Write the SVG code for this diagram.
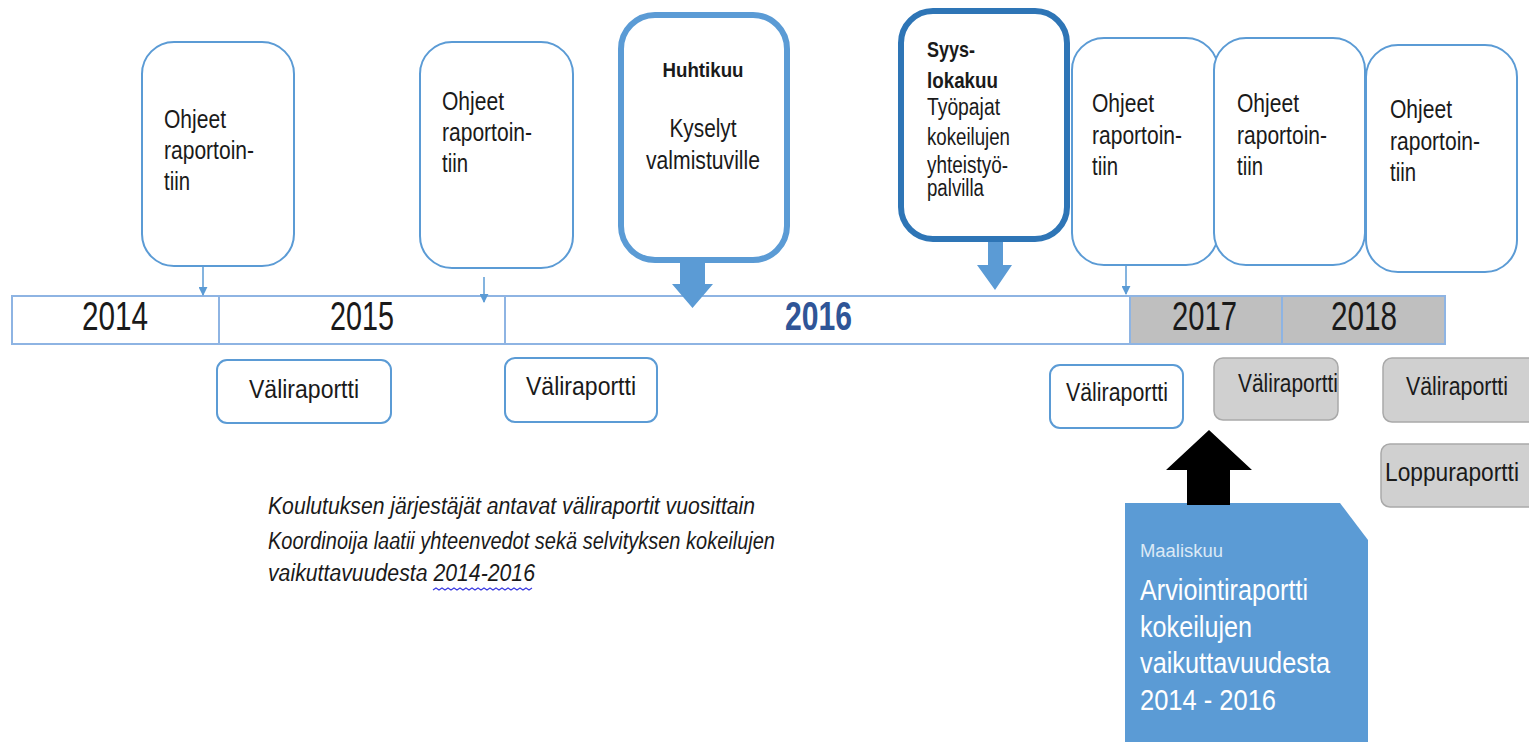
<svg xmlns="http://www.w3.org/2000/svg" width="1529" height="742" viewBox="0 0 1529 742">
<style>
text{font-family:"Liberation Sans",Arial,sans-serif;fill:#1a1a1a}
.ob{fill:#fff;stroke:#5b9bd5;stroke-width:2}
.hb{fill:#fff;stroke:#5b9bd5;stroke-width:6}
.sb{fill:#fff;stroke:#2e75b6;stroke-width:6}
.t20{font-size:26px}
.yr{font-size:40px}
.vb{fill:#fff;stroke:#5b9bd5;stroke-width:2}
.gb{fill:#d0d0d0;stroke:#a9a9a9;stroke-width:1.5}
.vt{font-size:26px}
.ba{fill:#5b9bd5}
.wt{fill:#fff}
.it{font-size:23px;font-style:italic}
.conn{stroke:#5b9bd5;stroke-width:1.5;fill:none}
</style>
<defs>
<marker id="ah" viewBox="0 0 10 10" refX="9" refY="5" markerWidth="9" markerHeight="9" orient="auto" markerUnits="userSpaceOnUse">
<path d="M0,0 L10,5 L0,10 Z" fill="#5b9bd5"/>
</marker>
</defs>

<g id="timeline">
<rect x="12" y="296" width="1433" height="48" fill="#fff" stroke="#8eb4e3" stroke-width="2"/>
<rect x="1130" y="296" width="315" height="48" fill="#bfbfbf" stroke="#8eb4e3" stroke-width="2"/>
<line x1="219" y1="296" x2="219" y2="344" stroke="#8eb4e3" stroke-width="2"/>
<line x1="505" y1="296" x2="505" y2="344" stroke="#8eb4e3" stroke-width="2"/>
<line x1="1282" y1="296" x2="1282" y2="344" stroke="#8eb4e3" stroke-width="2"/>
<text class="yr" x="82" y="330" textLength="66" lengthAdjust="spacingAndGlyphs">2014</text>
<text class="yr" x="330" y="330" textLength="64" lengthAdjust="spacingAndGlyphs">2015</text>
<text class="yr" x="785" y="330" textLength="67" lengthAdjust="spacingAndGlyphs" style="fill:#2f5597;font-weight:bold">2016</text>
<text class="yr" x="1172" y="330" textLength="65" lengthAdjust="spacingAndGlyphs">2017</text>
<text class="yr" x="1331" y="330" textLength="66" lengthAdjust="spacingAndGlyphs">2018</text>
</g>

<g id="ohjeet1">
<rect class="ob" x="142" y="42" width="152" height="224" rx="32"/>
<text class="t20" x="164" y="128" textLength="62" lengthAdjust="spacingAndGlyphs">Ohjeet</text>
<text class="t20" x="164" y="159" textLength="90" lengthAdjust="spacingAndGlyphs">raportoin-</text>
<text class="t20" x="164" y="190" textLength="26" lengthAdjust="spacingAndGlyphs">tiin</text>
</g>
<g id="ohjeet2">
<rect class="ob" x="420" y="42" width="153" height="226" rx="32"/>
<text class="t20" x="442" y="110" textLength="62" lengthAdjust="spacingAndGlyphs">Ohjeet</text>
<text class="t20" x="442" y="141" textLength="90" lengthAdjust="spacingAndGlyphs">raportoin-</text>
<text class="t20" x="442" y="172" textLength="26" lengthAdjust="spacingAndGlyphs">tiin</text>
</g>
<g id="huhtikuu">
<rect class="hb" x="621" y="15" width="166" height="245" rx="34"/>
<text x="703" y="77" text-anchor="middle" font-size="20" font-weight="bold" textLength="81" lengthAdjust="spacingAndGlyphs">Huhtikuu</text>
<text x="703" y="137" text-anchor="middle" font-size="26" textLength="67" lengthAdjust="spacingAndGlyphs">Kyselyt</text>
<text x="703" y="169" text-anchor="middle" font-size="26" textLength="114" lengthAdjust="spacingAndGlyphs">valmistuville</text>
</g>
<g id="syyslokakuu">
<rect class="sb" x="901" y="11" width="166" height="228" rx="32"/>
<text x="927" y="57" font-size="22" font-weight="bold" textLength="48" lengthAdjust="spacingAndGlyphs">Syys-</text>
<text x="927" y="88" font-size="22" font-weight="bold" textLength="71" lengthAdjust="spacingAndGlyphs">lokakuu</text>
<text x="927" y="115" font-size="23" textLength="73" lengthAdjust="spacingAndGlyphs">Työpajat</text>
<text x="927" y="145" font-size="23" textLength="83" lengthAdjust="spacingAndGlyphs">kokeilujen</text>
<text x="927" y="173" font-size="23" textLength="81" lengthAdjust="spacingAndGlyphs">yhteistyö-</text>
<text x="927" y="196" font-size="23" textLength="57" lengthAdjust="spacingAndGlyphs">palvilla</text>
</g>
<g id="ohjeet3">
<rect class="ob" x="1072" y="38" width="146" height="227" rx="32"/>
<text class="t20" x="1092" y="112" textLength="62" lengthAdjust="spacingAndGlyphs">Ohjeet</text>
<text class="t20" x="1092" y="144" textLength="90" lengthAdjust="spacingAndGlyphs">raportoin-</text>
<text class="t20" x="1092" y="175" textLength="26" lengthAdjust="spacingAndGlyphs">tiin</text>
</g>
<g id="ohjeet4">
<rect class="ob" x="1214" y="38" width="151" height="227" rx="32"/>
<text class="t20" x="1237" y="112" textLength="62" lengthAdjust="spacingAndGlyphs">Ohjeet</text>
<text class="t20" x="1237" y="144" textLength="90" lengthAdjust="spacingAndGlyphs">raportoin-</text>
<text class="t20" x="1237" y="175" textLength="26" lengthAdjust="spacingAndGlyphs">tiin</text>
</g>
<g id="ohjeet5">
<rect class="ob" x="1366" y="45" width="151" height="227" rx="32"/>
<text class="t20" x="1390" y="118" textLength="62" lengthAdjust="spacingAndGlyphs">Ohjeet</text>
<text class="t20" x="1390" y="150" textLength="90" lengthAdjust="spacingAndGlyphs">raportoin-</text>
<text class="t20" x="1390" y="181" textLength="26" lengthAdjust="spacingAndGlyphs">tiin</text>
</g>

<g id="vali1">
<rect class="vb" x="217" y="360" width="174" height="63" rx="10"/>
<text class="vt" x="304" y="398" text-anchor="middle" textLength="110" lengthAdjust="spacingAndGlyphs">Väliraportti</text>
</g>
<g id="vali2">
<rect class="vb" x="505" y="358" width="152" height="64" rx="10"/>
<text class="vt" x="581" y="395" text-anchor="middle" textLength="110" lengthAdjust="spacingAndGlyphs">Väliraportti</text>
</g>
<g id="vali3">
<rect class="vb" x="1050" y="365" width="133" height="63" rx="10"/>
<text class="vt" x="1117" y="401" text-anchor="middle" textLength="102" lengthAdjust="spacingAndGlyphs">Väliraportti</text>
</g>
<g id="vali4">
<rect class="gb" x="1214" y="358" width="124" height="62" rx="9"/>
<text class="vt" x="1288" y="392" text-anchor="middle" textLength="100" lengthAdjust="spacingAndGlyphs">Väliraportti</text>
</g>
<g id="vali5">
<rect class="gb" x="1383" y="358" width="155" height="64" rx="9"/>
<text class="vt" x="1457" y="395" text-anchor="middle" textLength="102" lengthAdjust="spacingAndGlyphs">Väliraportti</text>
</g>
<g id="loppu">
<rect class="gb" x="1381" y="444" width="157" height="63" rx="9"/>
<text class="vt" x="1452" y="481" text-anchor="middle" textLength="134" lengthAdjust="spacingAndGlyphs">Loppuraportti</text>
</g>

<g id="arviointi">
<path d="M1125,503 L1340,503 L1368,540 L1368,742 L1125,742 Z" fill="#5b9bd5"/>
<text class="wt" x="1140" y="557" font-size="18" textLength="83" lengthAdjust="spacingAndGlyphs" style="fill:#dce9f5">Maaliskuu</text>
<text class="wt" x="1140" y="600" font-size="30" textLength="168" lengthAdjust="spacingAndGlyphs">Arviointiraportti</text>
<text class="wt" x="1140" y="637" font-size="30" textLength="112" lengthAdjust="spacingAndGlyphs">kokeilujen</text>
<text class="wt" x="1140" y="673" font-size="30" textLength="190" lengthAdjust="spacingAndGlyphs">vaikuttavuudesta</text>
<text class="wt" x="1140" y="710" font-size="30" textLength="136" lengthAdjust="spacingAndGlyphs">2014 - 2016</text>
</g>

<g id="note">
<text class="it" x="268" y="514" textLength="487" lengthAdjust="spacingAndGlyphs">Koulutuksen järjestäjät antavat väliraportit vuosittain</text>
<text class="it" x="268" y="549" textLength="507" lengthAdjust="spacingAndGlyphs">Koordinoija laatii yhteenvedot sekä selvityksen kokeilujen</text>
<text class="it" x="268" y="581" textLength="267" lengthAdjust="spacingAndGlyphs">vaikuttavuudesta 2014-2016</text>
<path d="M433,590 l3,-2 l3,2 l3,-2 l3,2 l3,-2 l3,2 l3,-2 l3,2 l3,-2 l3,2 l3,-2 l3,2 l3,-2 l3,2 l3,-2 l3,2 l3,-2 l3,2 l3,-2 l3,2 l3,-2 l3,2 l3,-2 l3,2 l3,-2 l3,2 l3,-2 l3,2 l3,-2 l3,2 l3,-2 l3,2 l3,-2" fill="none" stroke="#3a3ae0" stroke-width="1.2"/>
</g>

<g id="connectors">
<line class="conn" x1="203" y1="266" x2="203" y2="295" marker-end="url(#ah)"/>
<line class="conn" x1="484" y1="277" x2="484" y2="302" marker-end="url(#ah)"/>
<line class="conn" x1="1126" y1="265" x2="1126" y2="294" marker-end="url(#ah)"/>
<polygon class="ba" points="680,263 705,263 705,284 713,284 692.5,308 672,284 680,284"/>
<polygon class="ba" points="988,242 1003,242 1003,265 1012,265 995,290 977,265 988,265"/>
<polygon fill="#000" points="1187,505 1230,505 1230,470 1252,470 1209,430 1166,470 1187,470"/>
</g>
</svg>
